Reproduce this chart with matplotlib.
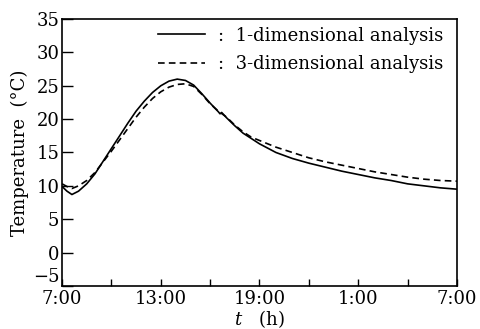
import matplotlib
matplotlib.use("Agg")
import matplotlib.pyplot as plt
from matplotlib.ticker import MultipleLocator

# hours after 7:00
t_1d = [0, 0.3, 0.6, 1.0, 1.5, 2.0, 2.5, 3.0, 3.5, 4.0, 4.5, 5.0, 5.5, 6.0,
        6.5, 7.0, 7.5, 8.0, 8.5, 9.0, 9.5, 9.6, 9.7, 10.0, 10.5, 11.0, 11.5,
        12.0, 13.0, 14.0, 15.0, 16.0, 17.0, 18.0, 19.0, 20.0, 21.0, 22.0,
        23.0, 24.0]
temp_1d = [9.9, 9.2, 8.7, 9.2, 10.3, 11.8, 13.7, 15.6, 17.5, 19.4, 21.2,
           22.7, 24.0, 25.0, 25.7, 26.0, 25.8, 25.1, 23.8, 22.4, 21.1, 20.8,
           21.0, 20.2, 19.0, 17.9, 17.1, 16.3, 15.0, 14.1, 13.4, 12.8, 12.2,
           11.7, 11.2, 10.8, 10.3, 10.0, 9.7, 9.5]

t_3d = [0, 0.3, 0.6, 1.0, 1.5, 2.0, 2.5, 3.0, 3.5, 4.0, 4.5, 5.0, 5.5, 6.0,
        6.5, 7.0, 7.5, 8.0, 8.5, 9.0, 9.5, 10.0, 10.5, 11.0, 11.5, 12.0,
        13.0, 14.0, 15.0, 16.0, 17.0, 18.0, 19.0, 20.0, 21.0, 22.0, 23.0,
        24.0]
temp_3d = [10.3, 9.9, 9.6, 10.0, 10.8, 12.0, 13.6, 15.2, 16.9, 18.6, 20.3,
           21.8, 23.1, 24.1, 24.8, 25.2, 25.3, 24.9, 23.7, 22.3, 21.2, 20.3,
           19.1, 18.1, 17.3, 16.8, 15.8, 15.0, 14.2, 13.6, 13.1, 12.6, 12.1,
           11.7, 11.3, 11.0, 10.8, 10.7]

xtick_pos = [0, 6, 12, 18, 24]
xtick_labels = ["7:00", "13:00", "19:00", "1:00", "7:00"]
ytick_pos = [-5, 0, 5, 10, 15, 20, 25, 30, 35]

plt.rcParams["font.family"] = ["DejaVu Serif"]
plt.rcParams["mathtext.fontset"] = "dejavuserif"

fig = plt.figure(figsize=(4.81, 3.29), dpi=100)
ax = fig.add_axes([0.129, 0.131, 0.821, 0.811])

ax.plot(t_1d, temp_1d, color="black", lw=1.2, label=":  1-dimensional analysis")
ax.plot(t_3d, temp_3d, color="black", lw=1.2, ls=(0, (4, 2.5)),
        label=":  3-dimensional analysis")

ax.set_xlim(0, 24)
ax.set_ylim(-5, 35)
ax.set_xticks(xtick_pos)
ax.set_xticklabels(xtick_labels)
ax.xaxis.set_minor_locator(MultipleLocator(3))
ax.set_yticks(ytick_pos)
ax.set_yticklabels(["\u22125" if v < 0 else str(v) for v in ytick_pos])
ax.tick_params(axis="x", which="both", direction="in", length=5, width=1,
               labelsize=13, pad=3)
ax.tick_params(axis="y", direction="in", length=8, width=1, labelsize=13,
               pad=2)
for s in ax.spines.values():
    s.set_linewidth(1.2)

# lift the -5 label so it clears the first time label
for lab in ax.get_yticklabels():
    if lab.get_text().startswith("\u2212"):
        lab.set_verticalalignment("bottom")

ax.set_ylabel("Temperature  (°C)", fontsize=13, labelpad=3)
ax.set_xlabel("$t$   (h)", fontsize=13, labelpad=0)

ax.legend(loc="upper right", bbox_to_anchor=(0.965, 0.972), frameon=False,
          fontsize=13, handlelength=2.6, handletextpad=0.7,
          labelspacing=0.6, borderpad=0, borderaxespad=0)

fig.savefig("out.png", dpi=100)
